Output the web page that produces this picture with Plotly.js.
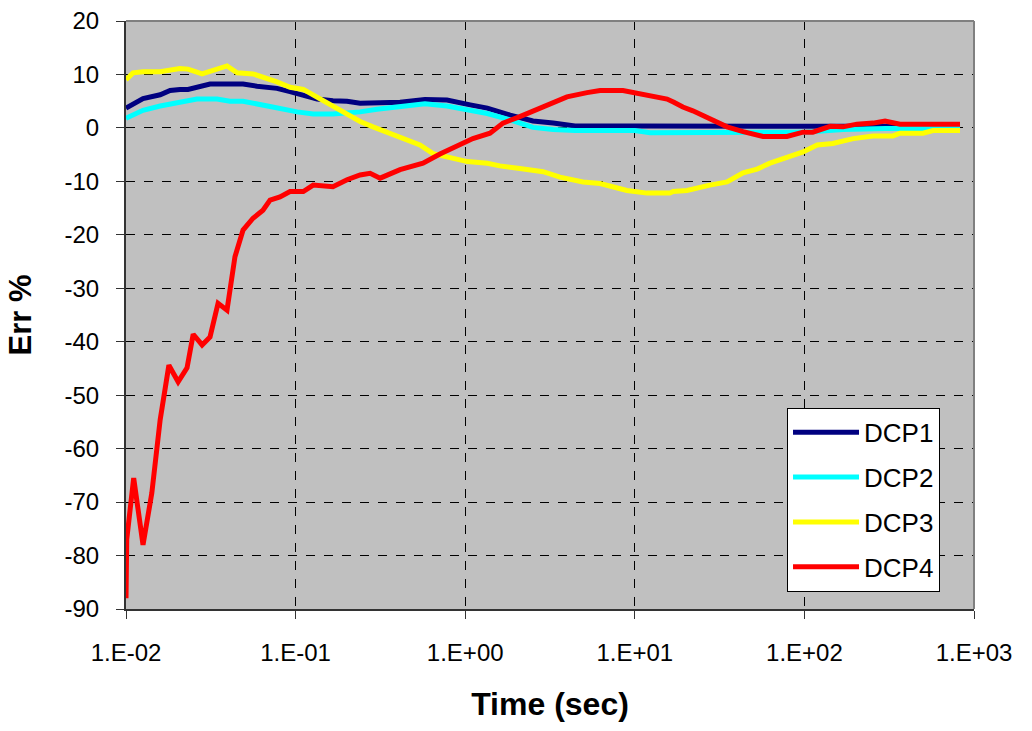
<!DOCTYPE html>
<html>
<head>
<meta charset="utf-8">
<script src="https://cdn.plot.ly/plotly-3.0.1.min.js"></script>
<style>html,body{margin:0;padding:0;background:#fff;}#chart{width:1032px;height:731px;}</style>
</head>
<body>
<div id="chart"></div>
<script>
const seriesNames = ["DCP1", "DCP2", "DCP3", "DCP4"];
const seriesColors = ["#000080", "#00FFFF", "#FFFF00", "#FF0000"];

const dcp1Time = [0.01, 0.0126, 0.0159, 0.0182, 0.0208, 0.0232, 0.0313, 0.049, 0.0592, 0.0776, 0.0927, 0.111, 0.134, 0.166, 0.201, 0.24, 0.346, 0.413, 0.579, 0.781, 1.07, 1.35, 1.84, 2.51, 3.30, 4.44, 10, 100, 827];
const dcp1Err  = [3.7, 5.5, 6.2, 7.0, 7.2, 7.2, 8.2, 8.2, 7.8, 7.4, 6.8, 6.2, 5.4, 5.1, 5.0, 4.6, 4.6, 4.8, 5.3, 5.2, 4.3, 3.7, 2.4, 1.3, 0.9, 0.35, 0.35, 0.3, 0.3];

const dcp2Time = [0.01, 0.0126, 0.0159, 0.0208, 0.0232, 0.0262, 0.0344, 0.041, 0.049, 0.0592, 0.0707, 0.102, 0.127, 0.166, 0.24, 0.302, 0.413, 0.579, 0.781, 1.07, 1.35, 1.84, 2.51, 3.30, 4.44, 10, 12.3, 100, 169, 300, 827];
const dcp2Err  = [1.8, 3.3, 4.1, 4.9, 5.0, 5.4, 5.4, 5.0, 5.0, 4.6, 4.0, 3.0, 2.6, 2.6, 3.0, 3.5, 3.9, 4.5, 4.1, 3.2, 2.7, 1.5, 0.1, -0.3, -0.5, -0.5, -0.9, -0.8, -0.3, -0.1, -0.1];

const dcp3Time = [0.01, 0.011, 0.0126, 0.0159, 0.0208, 0.0232, 0.0281, 0.0313, 0.0394, 0.0452, 0.0561, 0.0776, 0.0927, 0.111, 0.134, 0.166, 0.201, 0.24, 0.286, 0.346, 0.413, 0.454, 0.541, 0.646, 0.781, 1.03, 1.35, 1.60, 2.10, 2.88, 3.62, 4.95, 6.24, 8.99, 11.8, 16.1, 16.8, 20.3, 27.7, 35.0, 43.5, 52.6, 62.7, 78.9, 98.2, 119, 147, 194, 254, 333, 366, 500, 573, 827];
const dcp3Err  = [9.0, 10.3, 10.5, 10.5, 11.1, 11.0, 10.1, 10.6, 11.6, 10.3, 10.1, 8.6, 7.6, 7.2, 5.7, 4.1, 2.6, 1.2, 0.2, -0.8, -1.7, -2.3, -3.2, -4.8, -5.5, -6.3, -6.6, -7.1, -7.6, -8.2, -9.2, -10.1, -10.4, -11.7, -12.2, -12.2, -11.9, -11.7, -10.7, -10.1, -8.4, -7.7, -6.6, -5.4, -4.5, -3.2, -2.9, -2.0, -1.5, -1.5, -1.0, -1.0, -0.5, -0.5];

const dcp4Time = [0.01, 0.0101, 0.0111, 0.0126, 0.0142, 0.0159, 0.0179, 0.0203, 0.0229, 0.0249, 0.0281, 0.0313, 0.0349, 0.0394, 0.0439, 0.049, 0.0561, 0.0642, 0.0707, 0.0809, 0.0927, 0.111, 0.127, 0.166, 0.201, 0.24, 0.275, 0.315, 0.413, 0.564, 0.71, 0.847, 1.11, 1.40, 1.67, 2.10, 2.88, 3.98, 5.23, 6.24, 8.52, 10.3, 12.8, 15.5, 17.0, 19.2, 22.0, 27.7, 35.0, 43.5, 57.0, 78.9, 98.2, 112, 142, 169, 204, 254, 299, 366, 827];
const dcp4Err  = [-88, -77, -65.5, -78, -68.3, -54.6, -44.4, -47.5, -44.9, -38.6, -40.6, -39.1, -32.8, -34.1, -24.1, -19.1, -16.9, -15.4, -13.5, -12.9, -11.9, -11.9, -10.7, -11.0, -9.7, -8.8, -8.5, -9.4, -7.8, -6.6, -4.9, -3.8, -2.0, -1.0, 0.9, 2.1, 4.0, 5.8, 6.6, 7.0, 7.0, 6.5, 5.8, 5.4, 4.8, 3.9, 3.2, 1.6, 0.2, -0.7, -1.6, -1.6, -0.8, -0.8, 0.3, 0.2, 0.7, 0.9, 1.3, 0.7, 0.7];

const xTickVals = [0.01, 0.1, 1, 10, 100, 1000];
const xTickText = ["1.E-02", "1.E-01", "1.E+00", "1.E+01", "1.E+02", "1.E+03"];
const yTickVals = [20, 10, 0, -10, -20, -30, -40, -50, -60, -70, -80, -90];
const yTickText = ["20", "10", "0", "-10", "-20", "-30", "-40", "-50", "-60", "-70", "-80", "-90"];
const xTitle = "Time (sec)";
const yTitle = "Err %";

const times = [dcp1Time, dcp2Time, dcp3Time, dcp4Time];
const errs = [dcp1Err, dcp2Err, dcp3Err, dcp4Err];

const traces = seriesNames.map((n, i) => ({
  type: "scatter",
  mode: "lines",
  name: n,
  legendgroup: n,
  x: times[i],
  y: errs[i],
  line: {color: seriesColors[i], width: 5}
}));

const font = "Liberation Sans, Arial, sans-serif";

const layout = {
  width: 1032,
  height: 731,
  margin: {l: 126, r: 58, t: 21, b: 122},
  paper_bgcolor: "#ffffff",
  plot_bgcolor: "#c0c0c0",
  font: {family: font, color: "#000", size: 24},
  showlegend: true,
  legend: {
    x: 0.7795, y: 0.342, xanchor: "left", yanchor: "top",
    bgcolor: "#ffffff", bordercolor: "#000", borderwidth: 1,
    font: {family: font, size: 26, color: "#000"},
    itemwidth: 66,
    traceorder: "grouped",
    tracegroupgap: 8
  },
  xaxis: {
    type: "log",
    range: [-2, 3],
    tickvals: xTickVals,
    ticktext: xTickText,
    ticks: "outside", ticklen: 8, tickwidth: 1, tickcolor: "#333",
    showline: true, linecolor: "#333", linewidth: 2,
    showgrid: true, gridcolor: "#000", gridwidth: 1, griddash: "dash",
    zeroline: false,
    ticklabelstandoff: 13,
    tickfont: {family: font, size: 24},
    title: {text: xTitle, font: {family: font, size: 32, weight: "bold"}, standoff: 28}
  },
  yaxis: {
    range: [-90, 20],
    tickvals: yTickVals,
    ticktext: yTickText,
    ticks: "outside", ticklen: 8, tickwidth: 1, tickcolor: "#333",
    showline: true, linecolor: "#333", linewidth: 2,
    showgrid: true, gridcolor: "#000", gridwidth: 1, griddash: "dash",
    zeroline: false,
    ticklabelstandoff: 12,
    tickfont: {family: font, size: 24},
    title: {text: yTitle, font: {family: font, size: 31, weight: "bold"}, standoff: 24}
  },
  shapes: [
    {type: "line", xref: "paper", yref: "paper", x0: 0, x1: 1, y0: 1, y1: 1, line: {color: "#808080", width: 2}},
    {type: "line", xref: "paper", yref: "paper", x0: 1, x1: 1, y0: 0, y1: 1, line: {color: "#808080", width: 2}}
  ]
};

Plotly.newPlot("chart", traces, layout, {displayModeBar: false, staticPlot: true});
</script>
</body>
</html>
